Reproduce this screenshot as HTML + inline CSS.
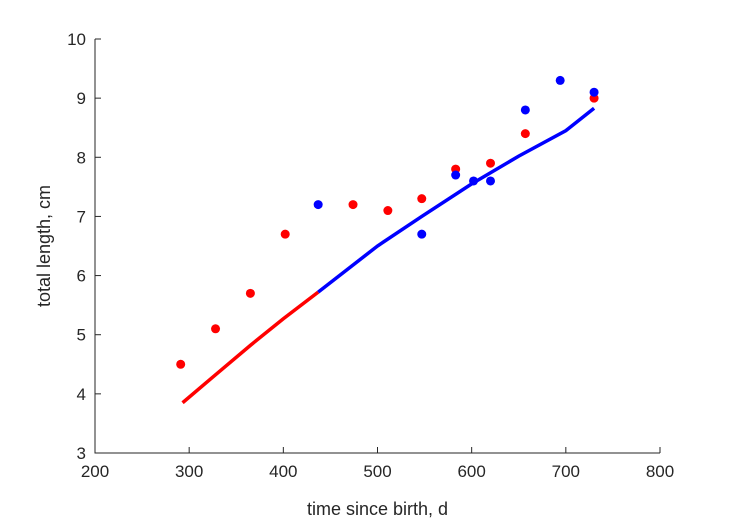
<!DOCTYPE html>
<html><head><meta charset="utf-8"><style>
body{margin:0;background:#fff;}
svg text{font-family:"Liberation Sans",sans-serif;fill:#262626;}
</style></head><body>
<svg id="chart" width="729" height="521" xmlns="http://www.w3.org/2000/svg">
<rect width="729" height="521" fill="#fff"/>
<g id="plot"></g>
</svg>
<script>
const xTicks=[200,300,400,500,600,700,800];
const yTicks=[3,4,5,6,7,8,9,10];
const redX=[291,328,365,402,474,511,547,583,620,657,730];
const redY=[4.5,5.1,5.7,6.7,7.2,7.1,7.3,7.8,7.9,8.4,9.0];
const blueX=[437,547,583,602,620,657,694,730];
const blueY=[7.2,6.7,7.7,7.6,7.6,8.8,9.3,9.1];
const fitRedX=[293,330,365,400,437];
const fitRedY=[3.85,4.35,4.82,5.27,5.72];
const fitBlueX=[437,500,547,600,650,700,730];
const fitBlueY=[5.72,6.5,7.0,7.55,8.02,8.45,8.83];

const L=95,R=660,T=39,B=453;
const sx=v=>L+(v-200)/600*(R-L);
const sy=v=>B-(v-3)/7*(B-T);
const NS='http://www.w3.org/2000/svg';
const g=document.getElementById('plot');
function mk(tag,attrs){const e=document.createElementNS(NS,tag);for(const k in attrs)e.setAttribute(k,attrs[k]);g.appendChild(e);return e;}

let ax=mk('path',{d:`M${L},${T}V${B}H${R}`,fill:'none',stroke:'#262626','stroke-width':1});


xTicks.forEach(t=>{
  let l=mk('line',{x1:sx(t),x2:sx(t),y1:B,y2:B-6,stroke:'#262626'});
  
  
  let tx=mk('text',{x:sx(t),y:B+24,'text-anchor':'middle','font-size':17});
  tx.textContent=t;
  
  
});
yTicks.forEach(t=>{
  let l=mk('line',{x1:L,x2:L+6,y1:sy(t),y2:sy(t),stroke:'#262626'});
  
  
  let tx=mk('text',{x:L-9,y:sy(t)+6,'text-anchor':'end','font-size':17});
  tx.textContent=t;
  
  
});
let xt=mk('text',{x:(L+R)/2,y:B+62,'text-anchor':'middle','font-size':18});
xt.textContent='time since birth, d';


let yt=mk('text',{x:0,y:0,'text-anchor':'middle','font-size':18,transform:`translate(50,${(T+B)/2}) rotate(-90)`});
yt.textContent='total length, cm';



function line(xs,ys,c,name){
  let d=xs.map((x,i)=>(i?'L':'M')+sx(x)+','+sy(ys[i])).join('');
  let p=mk('path',{d:d,fill:'none',stroke:c,'stroke-width':3.5});
  
  
}
line(fitRedX,fitRedY,'#ff0000','fit-line-red');
line(fitBlueX,fitBlueY,'#0000ff','fit-line-blue');
function pts(xs,ys,c,name){
  xs.forEach((x,i)=>{
    let p=mk('circle',{cx:sx(x),cy:sy(ys[i]),r:4.5,fill:c});
    
    
  });
}
pts(redX,redY,'#ff0000','data-point-red');
pts(blueX,blueY,'#0000ff','data-point-blue');
</script>
</body></html>
